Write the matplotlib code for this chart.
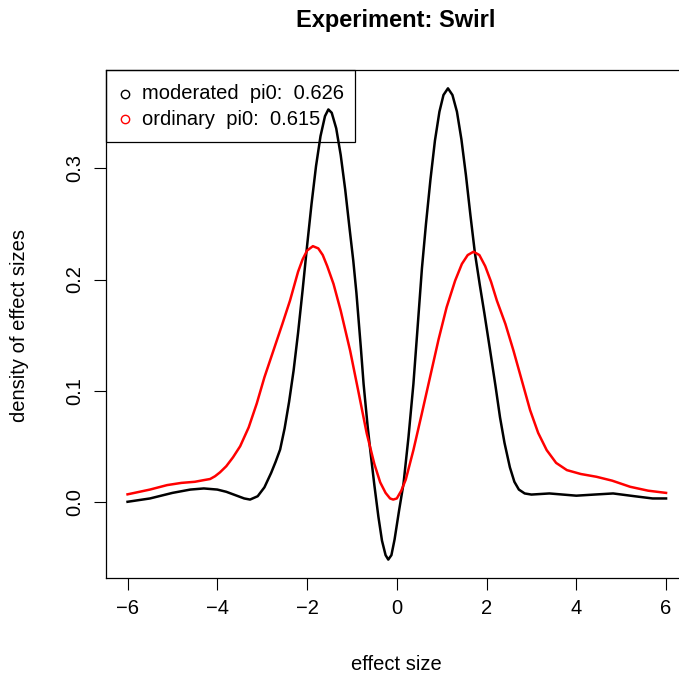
import matplotlib
matplotlib.use("Agg")
import matplotlib.pyplot as plt
from matplotlib.patches import Rectangle

plt.rcParams["font.family"] = ["Liberation Sans", "DejaVu Sans"]

# moderated effect size density (black)
x_mod = [-6.0, -5.5, -5.0, -4.6, -4.3, -4.0, -3.8, -3.6, -3.4, -3.27, -3.1, -2.95,
         -2.8, -2.7, -2.6, -2.5, -2.4, -2.3, -2.2, -2.1, -2.0, -1.9, -1.8, -1.7,
         -1.6, -1.525, -1.45, -1.35, -1.25, -1.15, -1.05, -0.97, -0.9, -0.8,
         -0.74, -0.65, -0.59, -0.5, -0.41, -0.33, -0.25, -0.19, -0.12, -0.05,
         0.05, 0.15, 0.26, 0.37, 0.46, 0.56, 0.65, 0.75, 0.85, 0.95, 1.04,
         1.14, 1.24, 1.34, 1.44, 1.54, 1.64, 1.74, 1.85, 1.95, 2.08, 2.2, 2.3,
         2.4, 2.52, 2.62, 2.72, 2.85, 3.0, 3.2, 3.4, 3.7, 4.0, 4.4, 4.82, 5.3,
         5.7, 6.0]
y_mod = [0.000, 0.003, 0.008, 0.011, 0.012, 0.011, 0.009, 0.006, 0.003, 0.002, 0.005, 0.013,
         0.026, 0.036, 0.047, 0.066, 0.090, 0.118, 0.152, 0.190, 0.230, 0.268, 0.302, 0.329,
         0.347, 0.353, 0.350, 0.336, 0.312, 0.281, 0.245, 0.217, 0.188, 0.138,
         0.106, 0.068, 0.046, 0.015, -0.0135, -0.035, -0.048, -0.052, -0.048, -0.034,
         -0.008, 0.0165, 0.058, 0.106, 0.155, 0.210, 0.250, 0.290, 0.325, 0.351, 0.366,
         0.372, 0.366, 0.351, 0.326, 0.294, 0.258, 0.224, 0.195, 0.170, 0.136, 0.104, 0.076,
         0.053, 0.031, 0.018, 0.011, 0.0075, 0.0065, 0.007, 0.0075, 0.0065, 0.0055, 0.0065, 0.0075, 0.005,
         0.003, 0.003]

# ordinary effect size density (red)
x_ord = [-6.0, -5.5, -5.12, -4.8, -4.5, -4.3, -4.16, -4.05, -3.94, -3.8, -3.65,
         -3.49, -3.3, -3.12, -2.95, -2.75, -2.55, -2.38, -2.2, -2.1, -2.0, -1.87,
         -1.75, -1.65, -1.55, -1.41, -1.25, -1.04, -0.85, -0.67, -0.5, -0.37,
         -0.25, -0.15, -0.08, 0.0, 0.1, 0.2, 0.37, 0.55, 0.74, 0.93, 1.11, 1.3,
         1.45, 1.58, 1.71, 1.84, 1.97, 2.1, 2.23, 2.42, 2.6, 2.78, 2.97, 3.15,
         3.34, 3.55, 3.79, 4.1, 4.45, 4.8, 5.2, 5.6, 6.0]
y_ord = [0.0067, 0.011, 0.015, 0.017, 0.018, 0.0195, 0.0205, 0.023, 0.0265, 0.032, 0.040,
         0.050, 0.067, 0.0885, 0.112, 0.136, 0.160, 0.181, 0.207, 0.218, 0.226, 0.230,
         0.228, 0.222, 0.212, 0.196, 0.172, 0.136, 0.098, 0.0615, 0.034, 0.0175,
         0.008, 0.003, 0.002, 0.003, 0.010, 0.020, 0.0465, 0.078, 0.112, 0.146, 0.175, 0.199,
         0.214, 0.222, 0.225, 0.222, 0.212, 0.198, 0.181, 0.160, 0.136, 0.110, 0.0825, 0.062,
         0.0465, 0.035, 0.0285, 0.025, 0.0225, 0.019, 0.0135, 0.010, 0.008]

legend_labels = ["moderated  pi0:  0.626", "ordinary  pi0:  0.615"]
colors = ["black", "red"]

W, H = 679, 677
fig = plt.figure(figsize=(W / 100, H / 100), dpi=100)
# plot region runs past the right edge, as in the original R device
ax = fig.add_axes([106 / W, 1 - 577.7 / H, 581.6 / W, 507.7 / H])

ax.plot(x_mod, y_mod, color=colors[0], lw=1.8)
ax.plot(x_ord, y_ord, color=colors[1], lw=1.8)

ax.set_xlim(-6.48, 6.48)
ax.set_ylim(-0.0683, 0.3885)
ax.set_xticks([-6, -4, -2, 0, 2, 4, 6])
ax.set_xticklabels(["\u22126", "\u22124", "\u22122", "0", "2", "4", "6"])
ax.set_yticks([0.0, 0.1, 0.2, 0.3])
ax.set_yticklabels(["0.0", "0.1", "0.2", "0.3"], rotation=90, va="center")
ax.tick_params(length=8.5, width=0.8, labelsize=14.5, pad=7)
for s in ax.spines.values():
    s.set_linewidth(0.9)

fig.text(396 / W, 1 - 20 / H, "Experiment: Swirl", ha="center", va="center",
         fontsize=17, fontweight="bold")
fig.text(396 / W, 1 - 664 / H, "effect size", ha="center", va="center", fontsize=14.5)
fig.text(20 / W, 1 - 325 / H, "density of effect sizes", ha="center", va="center",
         rotation=90, fontsize=14.5)

# legend box (R style, top-left)
fig.patches.append(Rectangle((106 / W, 1 - 142.3 / H), 249.3 / W, 72.3 / H,
                             transform=fig.transFigure, fill=False, lw=0.9,
                             edgecolor="black"))
for i, (lab, c) in enumerate(zip(legend_labels, colors)):
    yy = 1 - (93.5 + 25.7 * i) / H
    fig.lines.append(plt.Line2D([125 / W], [yy], transform=fig.transFigure,
                                marker="o", markersize=6, markerfacecolor="none",
                                markeredgecolor=c, markeredgewidth=1.0, ls="none"))
    fig.text(142.5 / W, yy, lab, ha="left", va="center", fontsize=14.5)

fig.savefig("out.png", dpi=100)
